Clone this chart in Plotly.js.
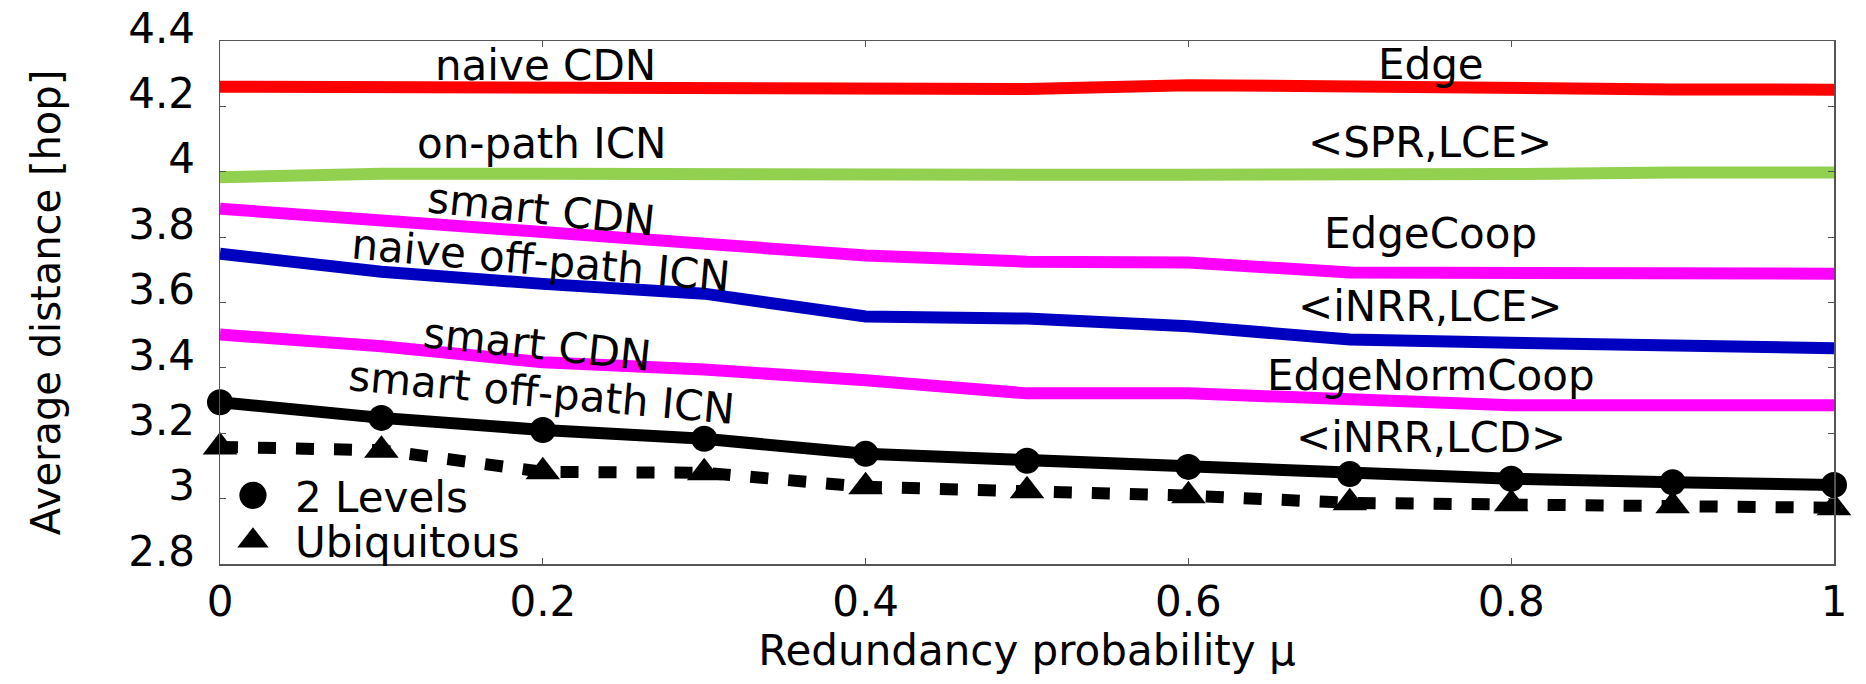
<!DOCTYPE html>
<html>
<head>
<meta charset="utf-8">
<script src="https://cdn.plot.ly/plotly-3.0.1.min.js"></script>
<style>html,body{margin:0;padding:0;background:#fff;}#chart{width:1866px;height:684px;}</style>
</head>
<body>
<div id="chart"></div>
<script>
// Redundancy probability (x values)
const mu = [0, 0.1, 0.2, 0.3, 0.4, 0.5, 0.6, 0.7, 0.8, 0.9, 1.0];

// naive CDN / Edge
const edge = [4.260, 4.260, 4.260, 4.259, 4.259, 4.253, 4.265, 4.259, 4.254, 4.252, 4.251];
// on-path ICN / <SPR,LCE>
const sprLce = [3.983, 3.994, 3.994, 3.992, 3.985, 3.991, 3.991, 3.988, 3.993, 3.998, 3.998];
// smart CDN / EdgeCoop
const edgeCoop = [3.887, 3.850, 3.811, 3.783, 3.744, 3.725, 3.722, 3.692, 3.690, 3.693, 3.688];
// naive off-path ICN / <iNRR,LCE>
const inrrLce = [3.749, 3.694, 3.657, 3.627, 3.557, 3.551, 3.527, 3.487, 3.477, 3.472, 3.460];
// smart CDN / EdgeNormCoop
const edgeNormCoop = [3.502, 3.466, 3.417, 3.395, 3.362, 3.322, 3.322, 3.301, 3.286, 3.286, 3.286];
// smart off-path ICN / <iNRR,LCD>, 2 Levels
const inrrLcd2Levels = [3.295, 3.247, 3.210, 3.183, 3.137, 3.116, 3.097, 3.075, 3.061, 3.050, 3.042];
// <iNRR,LCD>, Ubiquitous
const inrrLcdUbiq = [3.158, 3.148, 3.082, 3.079, 3.036, 3.024, 3.009, 2.987, 2.984, 2.978, 2.972];

const legendNames = ["2 Levels", "Ubiquitous"];
const xTickVals = [0, 0.2, 0.4, 0.6, 0.8, 1];
const xTickText = ["0", "0.2", "0.4", "0.6", "0.8", "1"];
const yTickVals = [2.8, 3.0, 3.2, 3.4, 3.6, 3.8, 4.0, 4.2, 4.4];
const yTickText = ["2.8", "3", "3.2", "3.4", "3.6", "3.8", "4", "4.2", "4.4"];

const leftLabels = ["naive CDN", "on-path ICN", "smart CDN", "naive off-path ICN", "smart CDN", "smart off-path ICN"];
const rightLabels = ["Edge", "<SPR,LCE>", "EdgeCoop", "<iNRR,LCE>", "EdgeNormCoop", "<iNRR,LCD>"];

const FONT = "DejaVu Sans, Verdana, sans-serif";
const LW = 12;

function line(y, color) {
  return {x: mu, y: y, type: 'scatter', mode: 'lines', showlegend: false,
          line: {color: color, width: LW}, hoverinfo: 'skip'};
}

const traces = [
  line(edge, '#ff0000'),
  line(sprLce, '#92d050'),
  line(edgeCoop, '#ff00ff'),
  line(inrrLce, '#0000c0'),
  line(edgeNormCoop, '#ff00ff'),
  {x: mu, y: inrrLcdUbiq, type: 'scatter', mode: 'lines+markers', showlegend: false, cliponaxis: false,
   line: {color: '#000', width: LW, dash: '18px,20px'},
   marker: {symbol: 'triangle-up', size: 30, color: '#000'}},
  {x: mu, y: inrrLcd2Levels, type: 'scatter', mode: 'lines+markers', showlegend: false, cliponaxis: false,
   line: {color: '#000', width: LW},
   marker: {symbol: 'circle', size: 26, color: '#000'}},
  {x: [null], y: [null], type: 'scatter', mode: 'markers', name: legendNames[0], legend: 'legend',
   marker: {symbol: 'circle', size: 26, color: '#000'}},
  {x: [null], y: [null], type: 'scatter', mode: 'markers', name: legendNames[1], legend: 'legend2',
   marker: {symbol: 'triangle-up', size: 30, color: '#000'}}
];

// label positions (layout, in data coordinates)
const leftPos = [[0.2017, 4.325, 0], [0.199, 4.087, 0], [0.199, 3.884, 6], [0.199, 3.728, 5], [0.197, 3.472, 6], [0.199, 3.325, 5]];
const rightPos = [[0.750, 4.327], [0.7495, 4.090], [0.750, 3.811], [0.7495, 3.588], [0.750, 3.377], [0.750, 3.186]];

const annotations = [];
leftLabels.forEach((t, i) => annotations.push({
  x: leftPos[i][0], y: leftPos[i][1], xref: 'x', yref: 'y', text: t, showarrow: false,
  textangle: leftPos[i][2], xanchor: 'center', yanchor: 'middle',
  font: {family: FONT, size: 42, color: '#000'}
}));
rightLabels.forEach((t, i) => annotations.push({
  x: rightPos[i][0], y: rightPos[i][1], xref: 'x', yref: 'y', text: t.replace(/</g, '&lt;').replace(/>/g, '&gt;'), showarrow: false,
  xanchor: 'center', yanchor: 'middle',
  font: {family: FONT, size: 42, color: '#000'}
}));

const axisCommon = {
  showgrid: false, zeroline: false, showline: true, linecolor: '#555', linewidth: 1.5,
  mirror: 'ticks', ticks: 'inside', ticklen: 6, tickwidth: 1, tickcolor: '#555',
  tickfont: {family: FONT, size: 42, color: '#000'}
};

const layout = {
  width: 1866, height: 684,
  margin: {l: 220, r: 32, t: 41, b: 120},
  paper_bgcolor: '#fff', plot_bgcolor: '#fff',
  font: {family: FONT, color: '#000'},
  xaxis: Object.assign({}, axisCommon, {
    range: [0, 1], tickmode: 'array', tickvals: xTickVals, ticktext: xTickText,
    ticklabelstandoff: 0,
    title: {text: 'Redundancy probability μ', font: {family: FONT, size: 42, color: '#000'}, standoff: 10}
  }),
  yaxis: Object.assign({}, axisCommon, {
    range: [2.8, 4.4], tickmode: 'array', tickvals: yTickVals, ticktext: yTickText,
    ticklabelstandoff: 15, ticklabelshift: -13,
    title: {text: 'Average distance [hop]', font: {family: FONT, size: 40, color: '#000'}, standoff: 55}
  }),
  showlegend: true,
  legend: {x: -0.0056, y: 0.131, xanchor: 'left', yanchor: 'middle', bgcolor: 'rgba(0,0,0,0)',
           font: {family: FONT, size: 42, color: '#000'}, itemwidth: 74, borderwidth: 0},
  legend2: {x: -0.0056, y: 0.044, xanchor: 'left', yanchor: 'middle', bgcolor: 'rgba(0,0,0,0)',
           font: {family: FONT, size: 42, color: '#000'}, itemwidth: 74, borderwidth: 0},
  annotations: annotations
};

Plotly.newPlot('chart', traces, layout, {displayModeBar: false, staticPlot: true}).then(function (gd) {
  // enlarge legend symbols to match the plot markers
  gd.querySelectorAll('.legendpoints path.scatterpts').forEach(function (p) {
    const tr = p.getAttribute('transform') || '';
    p.setAttribute('transform', tr + ' scale(1.7)');
  });
});
</script>
</body>
</html>
